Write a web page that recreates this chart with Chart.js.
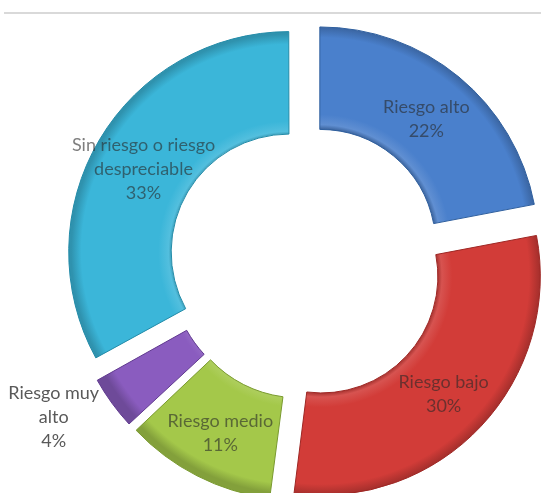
<!DOCTYPE html>
<html>
<head>
<meta charset="utf-8">
<script src="https://cdn.jsdelivr.net/npm/chart.js@4"></script>
<style>
  html, body { margin: 0; padding: 0; background: #fff; overflow: hidden; }
  #wrap { position: relative; width: 541px; height: 493px; }
  #topline { position: absolute; left: 4px; right: 0; top: 12px; height: 2px; background: #d9d9d9; }
  canvas { position: absolute; left: 0; top: 0; }
</style>
</head>
<body>
<div id="wrap">
  <div id="topline"></div>
  <canvas id="riskChart" width="541" height="493"></canvas>
</div>
<script>
// datos del gráfico
const categories = ['Riesgo alto', 'Riesgo bajo', 'Riesgo medio', 'Riesgo muy alto', 'Sin riesgo o riesgo despreciable'];
const percentages = [22, 30, 11, 4, 33];
const sliceColors = ['#4a80cc', '#d23c38', '#a4c84a', '#8a5cbf', '#3bb6d9'];
const edgeColors = ['#2f5f9e', '#9e2724', '#7a9a30', '#60398f', '#238ba8'];

const OUTER = 218;
const CUT = 0.53;
const EXPLODE = 22;   // separación real de cada porción, en px

const total = percentages.reduce((a, b) => a + b, 0);

// Chart.js desplaza cada porción offset/4 * (1 + fix); se corrige para que todas se separen igual
function fixFor(index) {
    const circ = percentages[index] / total * Math.PI * 2;
    return 1 - Math.sin(Math.min(Math.PI, circ));
}

function sliceOffset(c) {
    return EXPLODE * 4 / (1 + fixFor(c.dataIndex));
}

function shade(hex, amt) {
    const n = parseInt(hex.slice(1), 16);
    let r = (n >> 16) & 255, g = (n >> 8) & 255, b = n & 255;
    const t = amt < 0 ? 0 : 255, p = Math.abs(amt);
    r = Math.round(r + (t - r) * p);
    g = Math.round(g + (t - g) * p);
    b = Math.round(b + (t - b) * p);
    return 'rgb(' + r + ',' + g + ',' + b + ')';
}

function sliceFill(c) {
    const chart = c.chart;
    const area = chart.chartArea;
    const base = sliceColors[c.dataIndex];
    if (!area) return base;
    const cx = (area.left + area.right) / 2;
    const cy = (area.top + area.bottom) / 2;
    const g = chart.ctx.createRadialGradient(cx, cy, OUTER * CUT, cx, cy, OUTER);
    g.addColorStop(0, shade(base, -0.25));
    g.addColorStop(0.05, shade(base, 0.12));
    g.addColorStop(0.15, base);
    g.addColorStop(0.9, base);
    g.addColorStop(1, shade(base, -0.2));
    return g;
}

function wrapText(ctx, text, maxWidth) {
    const words = text.split(' ');
    const lines = [];
    let line = '';
    words.forEach(function(w) {
        const test = line ? line + ' ' + w : w;
        if (line && ctx.measureText(test).width > maxWidth) {
            lines.push(line);
            line = w;
        } else {
            line = test;
        }
    });
    if (line) lines.push(line);
    return lines;
}

// etiquetas de datos estilo Excel
const sliceLabels = {
    id: 'sliceLabels',
    afterDatasetsDraw(chart) {
        const ctx = chart.ctx;
        const meta = chart.getDatasetMeta(0);
        ctx.save();
        ctx.font = '18px Lato, "Open Sans", sans-serif';
        ctx.textAlign = 'center';
        ctx.textBaseline = 'middle';
        const lineH = 24;
        meta.data.forEach(function(arc, i) {
            const p = arc.getProps(['x', 'y', 'startAngle', 'endAngle', 'innerRadius', 'outerRadius']);
            const mid = (p.startAngle + p.endAngle) / 2;
            const shift = (arc.options.offset / 4) * (1 + fixFor(i));
            const ox = p.x + Math.cos(mid) * shift;
            const oy = p.y + Math.sin(mid) * shift;
            const text = categories[i];
            const pct = percentages[i] + '%';
            const outside = percentages[i] < 8;
            let lines, cx, cy;
            if (outside) {
                lines = wrapText(ctx, text, 105).concat([pct]);
                const r = p.outerRadius + 12;
                const ax = ox + Math.cos(mid) * r;
                const ay = oy + Math.sin(mid) * r;
                let w = 0;
                lines.forEach(function(l) { w = Math.max(w, ctx.measureText(l).width); });
                cx = ax - w / 2 - 3;
                cy = ay + 7;
                ctx.fillStyle = '#595959';
            } else {
                lines = wrapText(ctx, text, 165).concat([pct]);
                const r = (p.innerRadius + p.outerRadius) / 2;
                cx = ox + Math.cos(mid) * r;
                cy = oy + Math.sin(mid) * r + 3;
                ctx.fillStyle = 'rgba(40,40,40,0.6)';
            }
            const top = cy - (lines.length - 1) * lineH / 2;
            lines.forEach(function(l, k) {
                ctx.fillText(l, cx, top + k * lineH);
            });
        });
        ctx.restore();
    }
};

new Chart(document.getElementById('riskChart'), {
    type: 'doughnut',
    data: {
        labels: categories,
        datasets: [{
            data: percentages,
            backgroundColor: sliceFill,
            borderColor: edgeColors,
            borderWidth: 1,
            offset: sliceOffset
        }]
    },
    options: {
        responsive: false,
        animation: false,
        events: [],
        radius: OUTER,
        cutout: (CUT * 100) + '%',
        layout: {
            padding: { left: 71, right: 0, top: 31, bottom: 0 }
        },
        plugins: {
            legend: { display: false },
            tooltip: { enabled: false }
        }
    },
    plugins: [sliceLabels]
});
</script>
</body>
</html>
